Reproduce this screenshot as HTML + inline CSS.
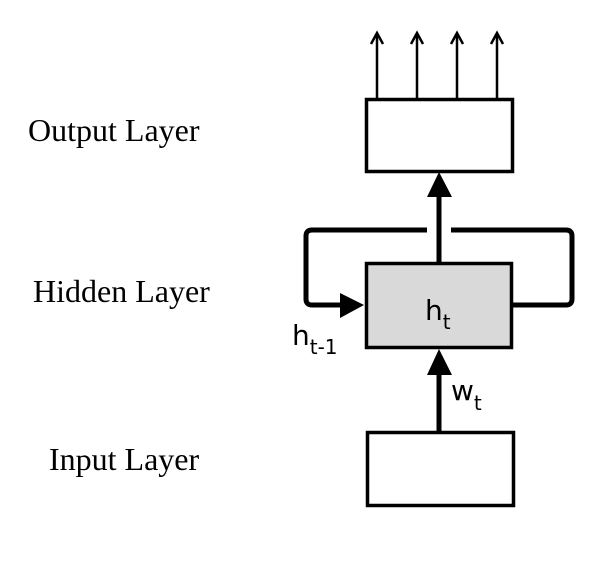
<!DOCTYPE html>
<html><head><style>body{margin:0;background:#fff}</style></head><body>
<svg width="614" height="579" xmlns="http://www.w3.org/2000/svg">
<defs><marker id="a" markerWidth="10" markerHeight="10" refX="5" refY="5" orient="auto" markerUnits="userSpaceOnUse"><path d="M0,10 L5,0 L10,10" fill="none" stroke="#000" stroke-width="2"/></marker></defs>
<g font-family="Liberation Serif, serif" font-size="32" fill="#000">
<text x="28" y="141">Output Layer</text>
<text x="33" y="302">Hidden Layer</text>
<text x="49" y="470">Input Layer</text>
</g>
<g stroke="#000" stroke-width="2.5">
<line x1="377" y1="98" x2="377" y2="33"/><line x1="417" y1="98" x2="417" y2="33"/><line x1="457" y1="98" x2="457" y2="33"/><line x1="497" y1="98" x2="497" y2="33"/>
</g>
<g fill="none" stroke="#000" stroke-width="2.5"><path d="M371,44 L377,33 L383,44 M411,44 L417,33 L423,44 M451,44 L457,33 L463,44 M491,44 L497,33 L503,44"/></g>
<rect x="366.5" y="99.5" width="146" height="72" fill="#fff" stroke="#000" stroke-width="3.5"/>
<g fill="none" stroke="#000" stroke-width="5" stroke-linejoin="round">
<path d="M427,230 L312,230 Q306,230 306,236 L306,299 Q306,305 312,305 L345,305"/>
<path d="M451,230 L566,230 Q572,230 572,236 L572,299 Q572,305 566,305 L512,305"/>
<line x1="439" y1="262" x2="439" y2="195"/>
<line x1="439" y1="431" x2="439" y2="372"/>
</g>
<polygon points="439,172 427,197 452,197" fill="#000"/>
<polygon points="364,305 340,293 340,318" fill="#000"/>
<polygon points="439,349 427,375 452,375" fill="#000"/>
<rect x="366.5" y="263.5" width="145" height="84" fill="#d9d9d9" stroke="#000" stroke-width="3.5"/>
<rect x="367.5" y="432.5" width="146" height="73" fill="#fff" stroke="#000" stroke-width="3.5"/>
<g font-family="DejaVu Sans, sans-serif" fill="#000">
<text x="425" y="320" font-size="28">h<tspan font-size="20" dy="9">t</tspan></text>
<text x="292" y="345" font-size="28">h<tspan font-size="20" dy="9">t-1</tspan></text>
<text x="451" y="400" font-size="28">w<tspan font-size="20" dy="10">t</tspan></text>
</g>
</svg>
</body></html>
